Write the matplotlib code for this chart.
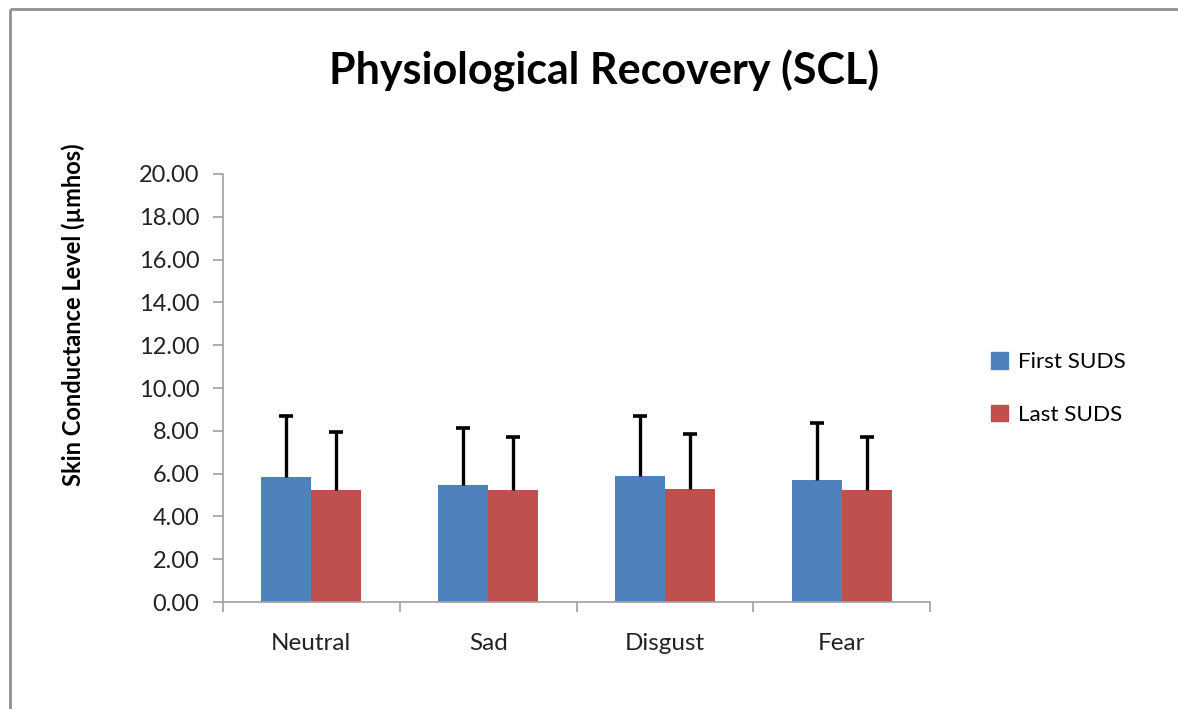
"""Bar chart: physiological recovery (skin conductance level)."""

import matplotlib.pyplot as plt
import numpy as np
from matplotlib.lines import Line2D
from matplotlib.patches import Patch

categories = ["Neutral", "Sad", "Disgust", "Fear"]
first_suds = [5.83, 5.45, 5.87, 5.70]
last_suds = [5.22, 5.22, 5.28, 5.22]
first_err = [2.86, 2.67, 2.82, 2.66]
last_err = [2.71, 2.49, 2.56, 2.49]
y_ticks = [0, 2, 4, 6, 8, 10, 12, 14, 16, 18, 20]

BLUE = "#4f81bd"
RED = "#c0504d"
GRID = "#a0a0a0"
FONT = ["Lato", "DejaVu Sans"]

plt.rcParams["font.family"] = FONT

fig = plt.figure(figsize=(11.78, 7.09), dpi=100)
ax = fig.add_axes([0.1893, 0.1509, 0.6002, 0.6037])

x = np.arange(len(categories))
w = 0.283
ax.bar(x - w / 2, first_suds, w, color=BLUE, label="First SUDS")
ax.bar(x + w / 2, last_suds, w, color=RED, label="Last SUDS")

# upper-only error bars with a single cap
for xs, vals, errs in [(x - w / 2, first_suds, first_err), (x + w / 2, last_suds, last_err)]:
    tops = np.array(vals) + np.array(errs)
    ax.vlines(xs, vals, tops, color="black", linewidth=2.4, zorder=3)
    ax.plot(xs, tops, linestyle="none", marker="_", markersize=10,
            markeredgewidth=2.6, color="black", zorder=3)

ax.set_xlim(-0.5, len(categories) - 0.5)
ax.set_ylim(0, 20)
ax.set_yticks(y_ticks)
ax.set_yticklabels([f"{v:.2f}" for v in y_ticks], fontsize=17, color="#222222")
ax.set_xticks(x)
ax.set_xticklabels(categories, fontsize=17.5, color="#222222")
ax.tick_params(axis="x", length=0, pad=22)
ax.set_xticks(np.arange(-0.5, len(categories)), minor=True)
ax.tick_params(axis="x", which="minor", length=7, color=GRID, width=1.2)
ax.tick_params(axis="y", length=7, color=GRID, width=1.2, pad=10)

for side in ["top", "right"]:
    ax.spines[side].set_visible(False)
for side in ["left", "bottom"]:
    ax.spines[side].set_color(GRID)
    ax.spines[side].set_linewidth(1.2)

fig.text(0.513, 0.90, "Physiological Recovery (SCL)", ha="center", va="center",
         fontsize=31, fontweight="bold")
fig.text(0.062, 0.556, "Skin Conductance Level (\u00b5mhos)", rotation=90,
         ha="center", va="center", fontsize=17, fontweight="bold")

handles = [Patch(color=BLUE), Patch(color=RED)]
fig.legend(handles, ["First SUDS", "Last SUDS"], loc="center left",
           bbox_to_anchor=(0.824, 0.452), frameon=False, fontsize=16.2,
           handlelength=0.75, handleheight=0.75, handletextpad=0.45,
           labelspacing=1.45)

# outer chart border (top and left visible)
fig.add_artist(Line2D([0.0085, 1.0], [0.987, 0.987], transform=fig.transFigure,
                      color="#909090", linewidth=2, solid_capstyle="butt"))
fig.add_artist(Line2D([0.0085, 0.0085], [0.0, 0.987], transform=fig.transFigure,
                      color="#909090", linewidth=2, solid_capstyle="butt"))

fig.savefig("out.png", dpi=100)
plt.close(fig)
